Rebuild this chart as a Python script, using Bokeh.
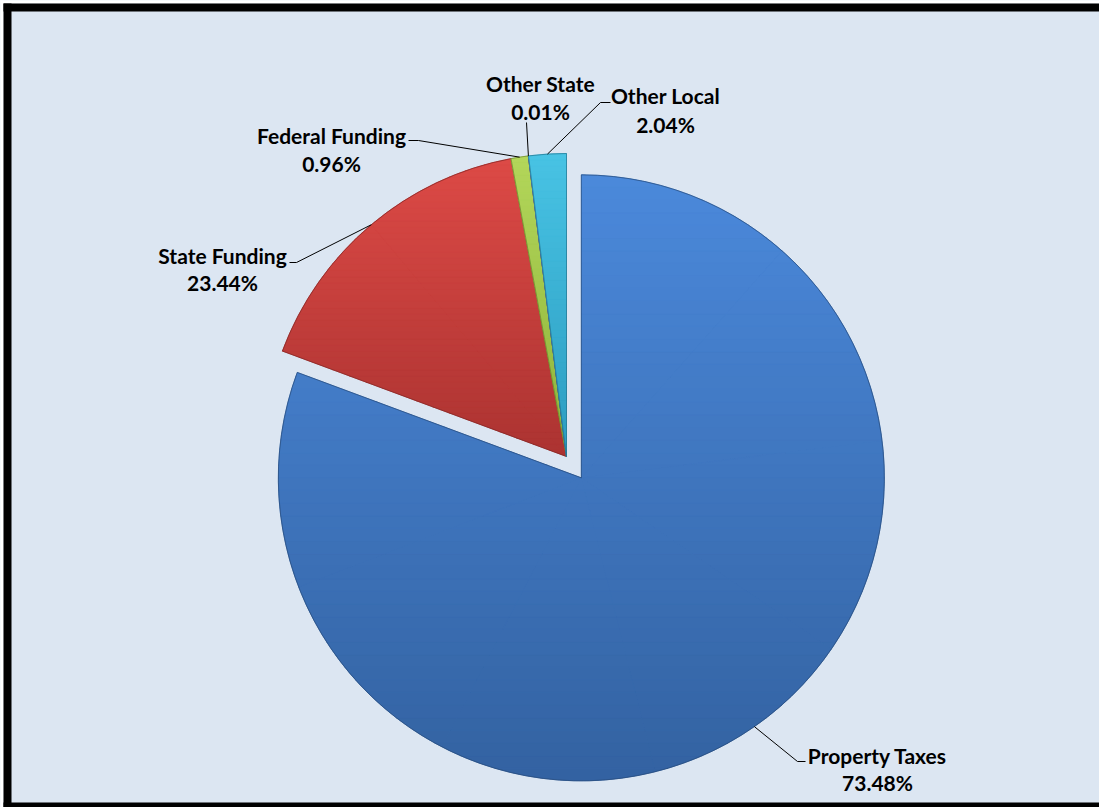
import math
from bokeh.plotting import figure
from bokeh.models import Range1d, ColumnDataSource
from bokeh.core.properties import value
from bokeh.embed import file_html
from bokeh.resources import INLINE

# ---------------- data ----------------
categories = ["Property Taxes", "State Funding", "Federal Funding", "Other State", "Other Local"]
# slice sizes as drawn in the picture (share of the circle, %)
drawn_shares = [80.6, 16.4, 0.92, 0.01, 2.0]
# percentages printed in the labels
label_pcts = ["73.48%", "23.44%", "0.96%", "0.01%", "2.04%"]
exploded = [26, 0, 0, 0, 0]
top_colors = ["#4b89db", "#dd4a46", "#b3d65a", "#8a6bb0", "#48c3e4"]
bottom_colors = ["#3362a1", "#ab3331", "#8db33a", "#6a4e8e", "#2c9cc0"]

# ---------------- layout ----------------
W, H = 1099, 807
def Y(sy):
    return H - sy

CX, CY = 566, Y(456)
R = 303

label_xy = [(877, 755, 782), (222, 255, 282), (331, 135, 163), (540, 83, 111), (665, 95, 124)]
# leader elbow and stub end (screen coords)
leader_elbows = [((797, 761), (805, 761)), ((296, 262), (289, 262)), ((418, 140), (408, 140)),
                 ((526, 122), (526, 122)), ((600, 102), (610, 102))]

FONT = "Lato"
FS = "21px"
BG = "#dce6f2"

p = figure(width=W, height=H, x_range=Range1d(0, W), y_range=Range1d(0, H),
           output_backend="svg", toolbar_location=None, min_border=0,
           x_axis_type=None, y_axis_type=None)
p.grid.visible = False
p.outline_line_color = None
p.background_fill_color = BG
p.border_fill_color = BG

# frame: white outer margin + black border strips (top, left, bottom)
p.quad(left=[-10, -10], right=[W + 10, 3], bottom=[Y(3), Y(H + 10)], top=[Y(-10), Y(-10)],
       fill_color="white", line_color=None)
p.quad(left=[3, 3, 3], right=[W + 10, 11, W + 10],
       bottom=[Y(11), Y(H + 10), Y(H + 10)], top=[Y(3), Y(3), Y(802)],
       fill_color="black", line_color=None)

total = sum(drawn_shares)
angles = []
cum = 0.0
for s in drawn_shares:
    a0 = 90 - cum / total * 360
    cum += s
    a1 = 90 - cum / total * 360
    angles.append((a0, a1))

def hex2rgb(h):
    h = h.lstrip("#")
    return tuple(int(h[i:i + 2], 16) for i in (0, 2, 4))

def mix(c1, c2, t):
    a, b = hex2rgb(c1), hex2rgb(c2)
    return "#%02x%02x%02x" % tuple(int(round(a[i] + (b[i] - a[i]) * t)) for i in range(3))

def clip_half(pts, inside, inter):
    out = []
    n = len(pts)
    for i in range(n):
        cur, prev = pts[i], pts[i - 1]
        if inside(cur):
            if not inside(prev):
                out.append(inter(prev, cur))
            out.append(cur)
        elif inside(prev):
            out.append(inter(prev, cur))
    return out

def y_inter(yv):
    def f(p0, p1):
        t = (yv - p0[1]) / (p1[1] - p0[1])
        return (p0[0] + t * (p1[0] - p0[0]), yv)
    return f

centers = []
for i, cat in enumerate(categories):
    a0, a1 = angles[i]
    mid = math.radians((a0 + a1) / 2)
    cx = CX + exploded[i] * math.cos(mid)
    cy = CY + exploded[i] * math.sin(mid)
    centers.append((cx, cy, mid))
    # base wedge
    src = ColumnDataSource(dict(x=[cx], y=[cy]))
    p.wedge(x="x", y="y", radius=R, start_angle=a0, end_angle=a1, start_angle_units="deg",
            end_angle_units="deg", direction="clock", source=src,
            fill_color=mix(top_colors[i], bottom_colors[i], 0.5), line_color=None)
    # vertical gradient bands built from the same wedge geometry (convex sub-sectors)
    span = a0 - a1
    n_sub = max(1, int(math.ceil(span / 45.0)))
    polys = []
    for s_i in range(n_sub):
        b0 = a0 - span * s_i / n_sub
        b1 = a0 - span * (s_i + 1) / n_sub
        n_arc = max(4, int(abs(b1 - b0) * 2))
        polys.append([(cx, cy)] + [(cx + R * math.cos(math.radians(b0 + (b1 - b0) * k / n_arc)),
                                    cy + R * math.sin(math.radians(b0 + (b1 - b0) * k / n_arc)))
                                   for k in range(n_arc + 1)])
    allp = [q for poly in polys for q in poly]
    ymin = min(q[1] for q in allp)
    ymax = max(q[1] for q in allp)
    nb = 48
    xs, ys, cols = [], [], []
    for poly in polys:
        for b in range(nb):
            lo = ymin + (ymax - ymin) * b / nb
            hi = ymin + (ymax - ymin) * (b + 1) / nb
            part = clip_half(poly, lambda q, lo=lo: q[1] >= lo, y_inter(lo))
            if part:
                part = clip_half(part, lambda q, hi=hi: q[1] <= hi, y_inter(hi))
            if len(part) >= 3:
                xs.append([q[0] for q in part])
                ys.append([q[1] for q in part])
                t = 1 - (b + 0.5) / nb
                cols.append(mix(top_colors[i], bottom_colors[i], t))
    if xs:
        p.patches(xs=xs, ys=ys, fill_color=cols, line_color=cols, line_width=0.7)
    # outline
    p.wedge(x="x", y="y", radius=R, start_angle=a0, end_angle=a1, start_angle_units="deg",
            end_angle_units="deg", direction="clock", source=src,
            fill_alpha=0, line_color=mix(bottom_colors[i], "#000000", 0.25), line_width=1, line_alpha=0.7)

# leader lines and labels
for i, cat in enumerate(categories):
    cx, cy, mid = centers[i]
    px, py = cx + R * math.cos(mid), cy + R * math.sin(mid)
    (ex, ey), (sx, sy) = leader_elbows[i]
    p.line(x=[px, ex, sx], y=[py, Y(ey), Y(sy)], line_color="black", line_width=1)
    lx, ly1, ly2 = label_xy[i]
    p.text(x=[lx], y=[Y(ly1)], text=[cat], text_align="center", text_baseline="middle",
           text_font=value(FONT), text_font_style="bold", text_font_size=FS, text_color="black")
    p.text(x=[lx], y=[Y(ly2)], text=[label_pcts[i]], text_align="center", text_baseline="middle",
           text_font=value(FONT), text_font_style="bold", text_font_size=FS, text_color="black")

open("out.html", "w").write(file_html(p, INLINE))
